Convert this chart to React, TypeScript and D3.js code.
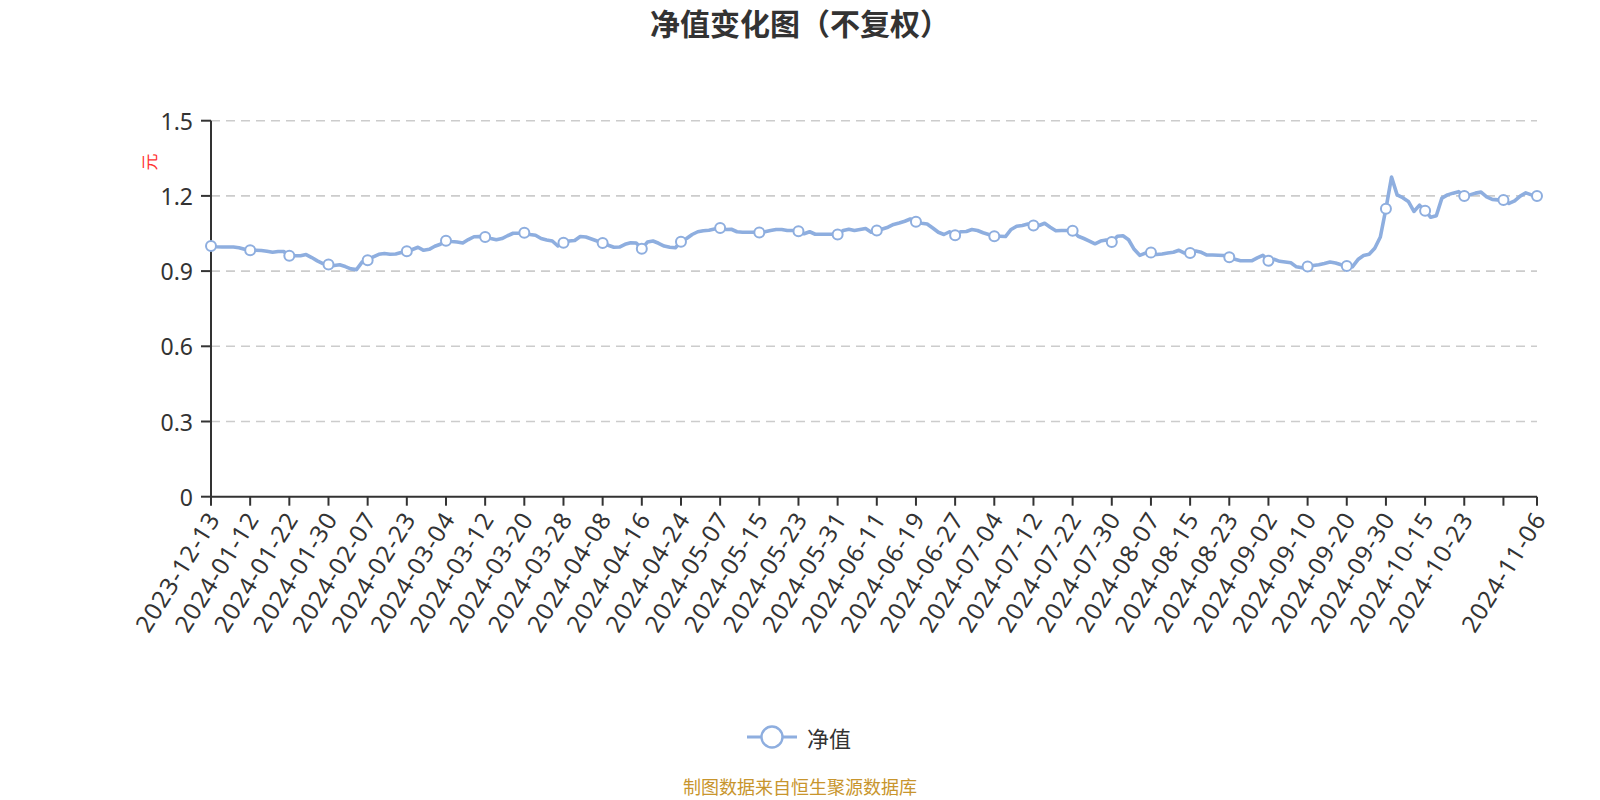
import * as d3 from 'd3';

// tick labels on the category axis (one every 7 trading days, plus the last day)
const tickLabels = [
  '2023-12-13', '2024-01-12', '2024-01-22', '2024-01-30', '2024-02-07', '2024-02-23',
  '2024-03-04', '2024-03-12', '2024-03-20', '2024-03-28', '2024-04-08', '2024-04-16',
  '2024-04-24', '2024-05-07', '2024-05-15', '2024-05-23', '2024-05-31', '2024-06-11',
  '2024-06-19', '2024-06-27', '2024-07-04', '2024-07-12', '2024-07-22', '2024-07-30',
  '2024-08-07', '2024-08-15', '2024-08-23', '2024-09-02', '2024-09-10', '2024-09-20',
  '2024-09-30', '2024-10-15', '2024-10-23', '2024-11-06',
];

// 单位净值（元），
const navValues = [
  1.000, 0.997, 0.996, 0.996, 0.996, 0.993, 0.987, 0.983, 0.983, 0.982,
  0.979, 0.975, 0.978, 0.978, 0.961, 0.961, 0.961, 0.966, 0.954, 0.941,
  0.930, 0.926, 0.922, 0.925, 0.918, 0.909, 0.906, 0.936, 0.943, 0.957,
  0.967, 0.970, 0.967, 0.968, 0.974, 0.979, 0.986, 0.995, 0.983, 0.987,
  0.999, 1.007, 1.021, 1.018, 1.016, 1.012, 1.026, 1.037, 1.038, 1.036,
  1.030, 1.025, 1.030, 1.041, 1.051, 1.051, 1.053, 1.046, 1.043, 1.030,
  1.024, 1.020, 1.000, 1.013, 1.020, 1.022, 1.038, 1.036, 1.028, 1.020,
  1.012, 1.003, 0.995, 0.996, 1.007, 1.013, 1.012, 0.989, 1.016, 1.020,
  1.011, 1.000, 0.995, 0.993, 1.017, 1.030, 1.046, 1.057, 1.061, 1.063,
  1.068, 1.072, 1.066, 1.067, 1.057, 1.055, 1.055, 1.055, 1.054, 1.057,
  1.062, 1.066, 1.066, 1.062, 1.062, 1.059, 1.049, 1.057, 1.047, 1.047,
  1.047, 1.047, 1.046, 1.062, 1.067, 1.062, 1.066, 1.070, 1.055, 1.062,
  1.068, 1.075, 1.086, 1.092, 1.099, 1.108, 1.097, 1.091, 1.088, 1.072,
  1.055, 1.046, 1.057, 1.043, 1.057, 1.058, 1.066, 1.062, 1.053, 1.046,
  1.039, 1.039, 1.038, 1.066, 1.079, 1.082, 1.088, 1.082, 1.082, 1.091,
  1.075, 1.061, 1.062, 1.062, 1.061, 1.039, 1.030, 1.020, 1.009, 1.020,
  1.024, 1.016, 1.039, 1.041, 1.025, 0.987, 0.963, 0.972, 0.974, 0.966,
  0.968, 0.972, 0.975, 0.983, 0.972, 0.972, 0.980, 0.975, 0.964, 0.964,
  0.963, 0.962, 0.955, 0.947, 0.941, 0.941, 0.941, 0.953, 0.963, 0.941,
  0.947, 0.939, 0.936, 0.933, 0.917, 0.913, 0.918, 0.922, 0.925, 0.930,
  0.936, 0.932, 0.925, 0.920, 0.917, 0.946, 0.962, 0.967, 0.991, 1.036,
  1.149, 1.275, 1.204, 1.193, 1.178, 1.138, 1.163, 1.141, 1.115, 1.121,
  1.191, 1.204, 1.211, 1.217, 1.200, 1.204, 1.211, 1.215, 1.196, 1.186,
  1.184, 1.184, 1.170, 1.180, 1.199, 1.212, 1.204, 1.200,
];

const yTicks = [0, 0.3, 0.6, 0.9, 1.2, 1.5];

const LABEL_STEP = 7;
const LINE_COLOR = '#8eaedf';
const FONT = '"Noto Sans", "Noto Sans CJK SC", sans-serif';
const CJK = '"Noto Sans CJK SC", sans-serif';

export default function App() {
  const width = 1600;
  const height = 800;
  const left = 211;
  const right = 1537;
  const top = 120.7;
  const bottom = 496.7;

  const n = navValues.length;
  const x = d3.scaleLinear().domain([0, n - 1]).range([left, right]);
  const y = d3.scaleLinear().domain([0, 1.5]).range([bottom, top]);

  const stepIdx = d3.range(0, n, LABEL_STEP);
  const tickIdx = stepIdx[stepIdx.length - 1] === n - 1 ? stepIdx : stepIdx.concat([n - 1]);
  const labelIdx = d3.range(0, n - LABEL_STEP, LABEL_STEP).concat([n - 1]);

  const line = d3
    .line<number>()
    .x((_, i) => x(i))
    .y((d) => y(d));

  return (
    <svg
      width={width}
      height={height}
      style={{ position: 'fixed', left: 0, top: 0, background: '#fff' }}
    >
      <text
        x={800}
        y={35}
        textAnchor="middle"
        fontFamily={CJK}
        fontWeight="bold"
        fontSize={30}
        fill="#333"
      >
        净值变化图（不复权）
      </text>

      {/* grid */}
      {yTicks.slice(1).map((t) => (
        <line
          key={t}
          x1={left}
          x2={right}
          y1={y(t)}
          y2={y(t)}
          stroke="#ccc"
          strokeWidth={1.6}
          strokeDasharray="9,6"
        />
      ))}

      {/* y axis */}
      <line x1={left} x2={left} y1={top} y2={bottom} stroke="#333" strokeWidth={2} />
      {yTicks.map((t) => (
        <g key={t}>
          <line x1={left - 10} x2={left} y1={y(t)} y2={y(t)} stroke="#333" strokeWidth={2} />
          <text
            x={left - 18}
            y={y(t)}
            textAnchor="end"
            dominantBaseline="central"
            fontFamily={FONT}
            fontSize={23}
            fill="#333"
          >
            {d3.format('~g')(t)}
          </text>
        </g>
      ))}
      <text
        transform={`translate(148,162) rotate(-90)`}
        textAnchor="middle"
        dominantBaseline="central"
        fontFamily={CJK}
        fontSize={17}
        fill="#f33"
      >
        元
      </text>

      {/* x axis */}
      <line x1={left} x2={right} y1={bottom} y2={bottom} stroke="#333" strokeWidth={2} />
      {tickIdx.map((i) => (
        <line key={i} x1={x(i)} x2={x(i)} y1={bottom} y2={bottom + 9} stroke="#333" strokeWidth={2} />
      ))}
      {labelIdx.map((i, k) => (
        <text
          key={i}
          transform={`translate(${x(i) + 2},${bottom + 17}) rotate(-58)`}
          textAnchor="end"
          dominantBaseline="central"
          fontFamily={FONT}
          fontSize={24}
          letterSpacing={1.1}
          fill="#333"
        >
          {tickLabels[k]}
        </text>
      ))}

      {/* series */}
      <path
        d={line(navValues) ?? ''}
        fill="none"
        stroke={LINE_COLOR}
        strokeWidth={3.6}
        strokeLinejoin="round"
        strokeLinecap="round"
      />
      {tickIdx.map((i) => (
        <circle
          key={i}
          cx={x(i)}
          cy={y(navValues[i])}
          r={5}
          fill="#fff"
          stroke={LINE_COLOR}
          strokeWidth={2}
        />
      ))}

      {/* legend */}
      <line x1={747} x2={797} y1={737} y2={737} stroke={LINE_COLOR} strokeWidth={3} />
      <circle cx={772} cy={737} r={10.5} fill="#fff" stroke={LINE_COLOR} strokeWidth={2.4} />
      <text
        x={807}
        y={737}
        dominantBaseline="central"
        fontFamily={CJK}
        fontSize={22}
        fill="#333"
      >
        净值
      </text>

      <text
        x={800}
        y={786}
        textAnchor="middle"
        dominantBaseline="central"
        fontFamily={CJK}
        fontSize={18}
        fill="#c8952d"
      >
        制图数据来自恒生聚源数据库
      </text>
    </svg>
  );
}
